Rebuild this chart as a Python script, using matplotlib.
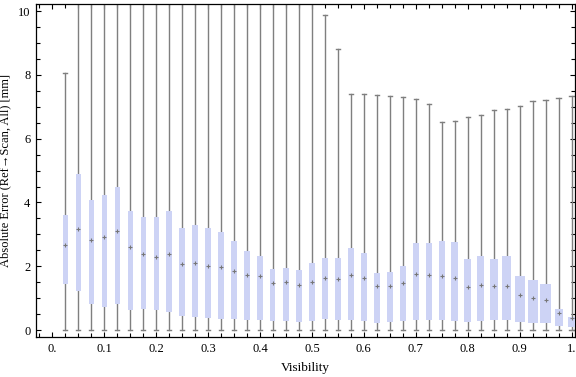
import numpy as np
import matplotlib
matplotlib.use("Agg")
import matplotlib.pyplot as plt
from matplotlib.ticker import MultipleLocator

plt.rcParams['font.family'] = ['Liberation Serif', 'DejaVu Serif']

# box centres: visibility bins of 0.025
visibility = [0.025 * k for k in range(1, 41)]

q1 = [1.45, 1.22, 0.83, 0.73, 0.83, 0.64, 0.66, 0.63, 0.56, 0.44,
      0.41, 0.38, 0.34, 0.34, 0.31, 0.31, 0.28, 0.28, 0.25, 0.28,
      0.34, 0.31, 0.31, 0.28, 0.22, 0.25, 0.28, 0.31, 0.31, 0.31,
      0.28, 0.26, 0.28, 0.31, 0.31, 0.25, 0.22, 0.22, 0.13, 0.09]
median = [2.66, 3.18, 2.83, 2.92, 3.09, 2.61, 2.37, 2.30, 2.38, 2.07,
          2.09, 2.01, 1.98, 1.85, 1.72, 1.69, 1.48, 1.51, 1.41, 1.51,
          1.64, 1.60, 1.72, 1.64, 1.37, 1.37, 1.46, 1.77, 1.74, 1.70,
          1.63, 1.35, 1.40, 1.37, 1.37, 1.09, 1.00, 0.93, 0.52, 0.38]
q3 = [3.60, 4.90, 4.08, 4.23, 4.48, 3.73, 3.54, 3.54, 3.73, 3.20,
      3.29, 3.20, 3.07, 2.79, 2.48, 2.32, 1.91, 1.94, 1.88, 2.10,
      2.26, 2.26, 2.57, 2.41, 1.79, 1.82, 2.01, 2.73, 2.73, 2.79,
      2.76, 2.23, 2.32, 2.23, 2.32, 1.69, 1.57, 1.44, 0.66, 0.41]
# upper whisker; bins 2..20 run far above the plot range
whis_hi = [8.05, 15, 15, 15, 15, 15, 15, 15, 15, 15,
           15, 15, 15, 15, 15, 15, 15, 15, 15, 15,
           9.87, 8.80, 7.40, 7.40, 7.37, 7.35, 7.31, 7.25, 7.09, 6.53,
           6.57, 6.67, 6.73, 6.89, 6.92, 7.03, 7.17, 7.20, 7.28, 7.33]
whis_lo = [0.0] * 40

# box widths as drawn (x units)
box_w = [0.0096] * 8 + [0.0116] * 6 + [0.013, 0.0116] + [0.0096] + [0.0116] * 13 \
        + [0.013, 0.013, 0.013, 0.0154, 0.0173, 0.0193, 0.0193, 0.021, 0.0154, 0.0116]

box_col = '#cdd3f5'
line_col = '#7f7f7f'

stats = []
for i in range(len(visibility)):
    stats.append(dict(med=median[i], q1=q1[i], q3=q3[i],
                      whislo=whis_lo[i], whishi=whis_hi[i], fliers=[]))

fig = plt.figure(figsize=(5.76, 3.77), dpi=100)
ax = fig.add_axes([0.0625, 0.106, 0.936, 0.883])

ax.bxp(stats, positions=visibility, widths=box_w, capwidths=0.008,
       patch_artist=True, manage_ticks=False,
       boxprops=dict(facecolor=box_col, edgecolor='none', zorder=3),
       whiskerprops=dict(color=line_col, lw=1.0, zorder=2),
       capprops=dict(color=line_col, lw=1.0, zorder=2),
       medianprops=dict(visible=False))
ax.plot(visibility, median, ls='none', marker='+', ms=3, mew=0.8,
        color='#777777', zorder=4)

ax.set_xlim(-0.0315, 1.007)
ax.set_ylim(-0.22, 10.22)

xt = np.round(np.arange(0, 1.01, 0.1), 1)
ax.set_xticks(xt)
ax.set_xticklabels(['0.' if v == 0 else ('1.' if v == 1 else '%g' % v) for v in xt])
ax.xaxis.set_minor_locator(MultipleLocator(0.025))
ax.yaxis.set_major_locator(MultipleLocator(2))
ax.yaxis.set_minor_locator(MultipleLocator(0.5))

ax.tick_params(which='both', direction='in', top=True, right=True,
               width=0.8, labelsize=9, colors='black')
ax.tick_params(which='major', length=3.5, pad=4)
ax.tick_params(which='minor', length=3)
for s in ax.spines.values():
    s.set_linewidth(0.9)

ax.set_xlabel('Visibility', fontsize=9.5, labelpad=5)
ax.set_ylabel('Absolute Error (Ref\u2192Scan, All) [mm]', fontsize=9)
ax.yaxis.set_label_coords(-0.045, 0.5)

fig.savefig('out.png', dpi=100)
